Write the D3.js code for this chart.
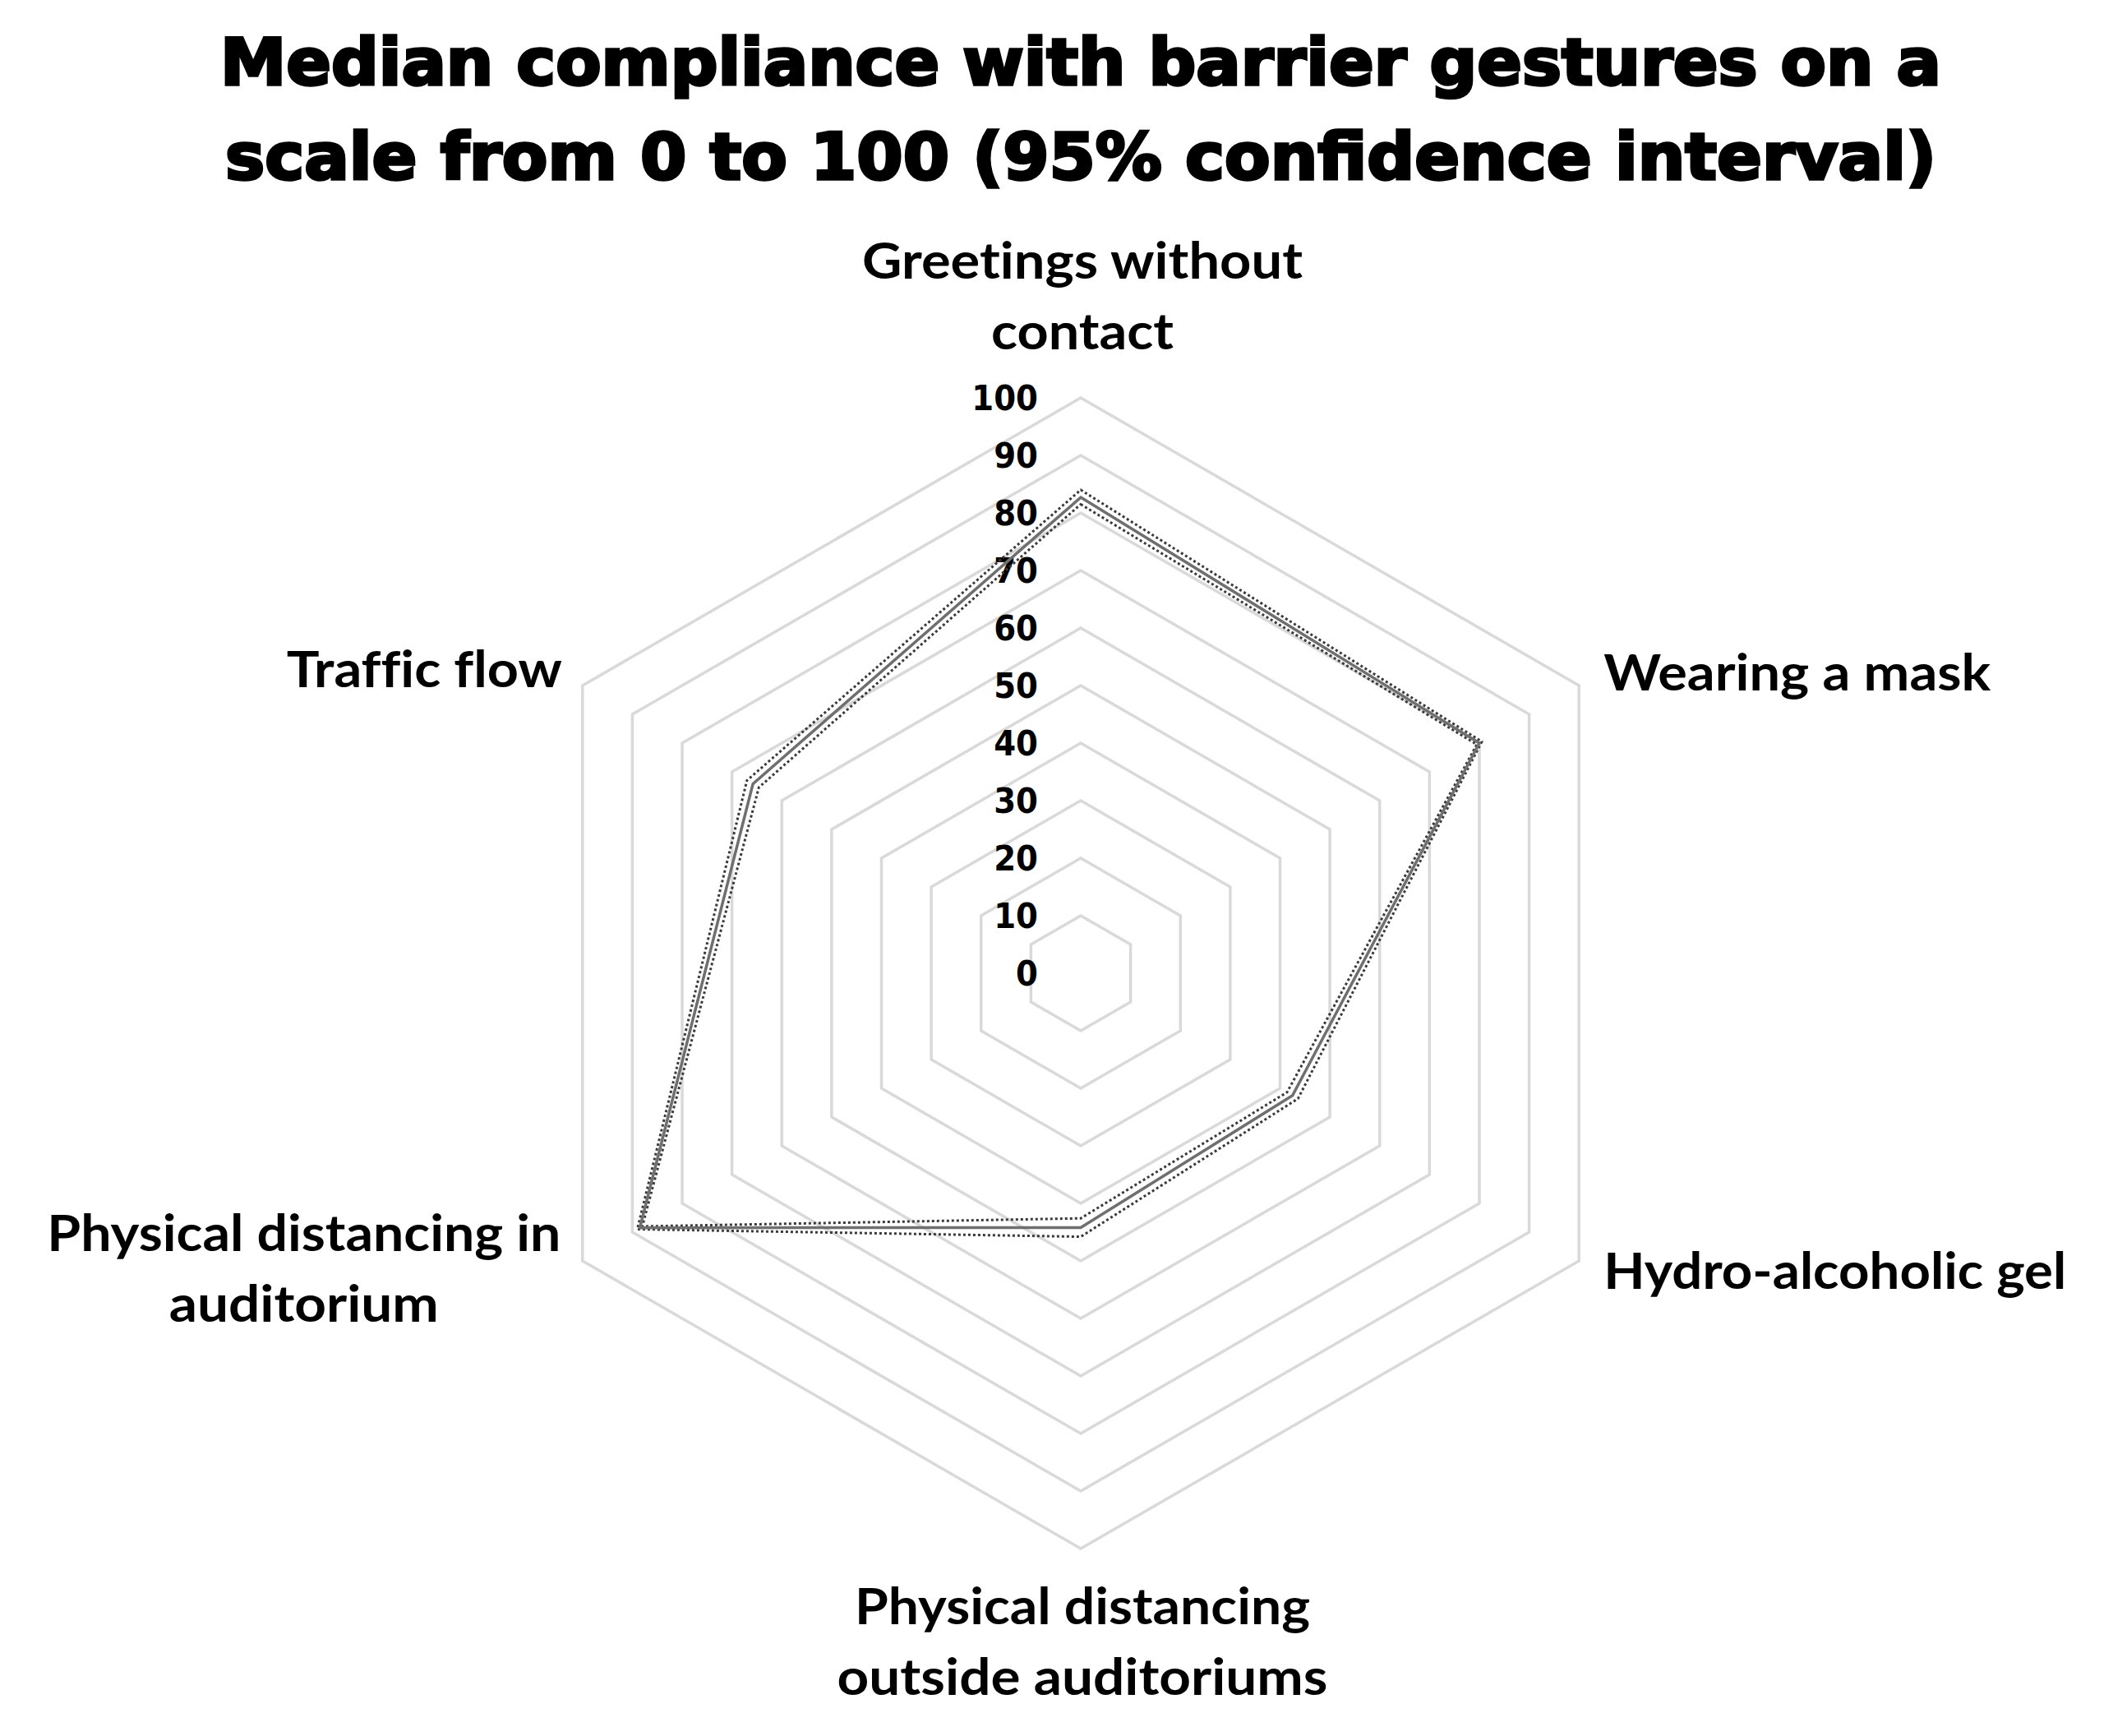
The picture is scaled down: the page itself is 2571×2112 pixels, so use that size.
<!DOCTYPE html>
<html>
<head>
<meta charset="utf-8">
<title>Median compliance with barrier gestures</title>
<script src="https://d3js.org/d3.v7.min.js"></script>
<style>
body {
	margin: 0;
	background-color: white;
}
svg {
	display: block;
}
.title {
	font-family: "DejaVu Sans";
	font-weight: bold;
	font-size: 78px;
	fill: black;
	stroke: black;
	stroke-width: 3.5;
}
.cat {
	font-family: Lato;
	font-weight: bold;
	font-size: 62px;
	font-variant-ligatures: none;
	font-feature-settings: "liga" 0, "dlig" 0;
	fill: black;
}
.tick {
	font-family: "DejaVu Sans Condensed", "DejaVu Sans";
	font-weight: bold;
	font-size: 43px;
	fill: black;
}
.grid {
	fill: none;
	stroke: #d9d9d9;
	stroke-width: 3.5;
}
.median {
	fill: none;
	stroke: #6f6f6f;
	stroke-width: 3.5;
}
.ci {
	fill: none;
	stroke: #3a3a3a;
	stroke-width: 3;
	stroke-dasharray: 3 3;
}
</style>
</head>
<body>
<div id="chart"></div>
<script>
/* globals d3 */
(function() {
"use strict";

const titleLines = [
	"Median compliance with barrier gestures on a",
	"scale from 0 to 100 (95% confidence  interval)",
];
const categories = [
	["Greetings without", "contact"],
	["Wearing a mask"],
	["Hydro-alcoholic gel"],
	["Physical distancing", "outside auditoriums"],
	["Physical distancing in", "auditorium"],
	["Traffic flow"],
];
const medianValues = [82.7, 80.0, 42.5, 44.2, 88.5, 65.8];
const lowerValues = [81.5, 79.5, 41.4, 42.6, 88.0, 64.6];
const upperValues = [84.0, 80.5, 43.6, 45.8, 89.0, 67.0];
const ticks = [0, 10, 20, 30, 40, 50, 60, 70, 80, 90, 100];

function main()
{
	const width = 2571, height = 2112;
	const cx = 1315, cy = 1184, radius = 700;

	const svg = d3.select("#chart")
		.append("svg")
			.attr("width", width)
			.attr("height", height);

	// title, squeezed to the width of the original heavy face
	const titleWidths = [2094, 2082];
	svg.selectAll("text.title")
		.data(titleLines)
		.join("text")
			.attr("class", "title")
			.attr("x", cx)
			.attr("y", (d, i) => 103 + i * 115)
			.attr("text-anchor", "middle")
			.attr("textLength", (d, i) => titleWidths[i])
			.attr("lengthAdjust", "spacingAndGlyphs")
			.text(d => d);

	const g = svg.append("g")
		.attr("transform", "translate(" + cx + "," + cy + ")");

	const r = d3.scaleLinear([0, 100], [0, radius]);
	const angle = i => i * 2 * Math.PI / categories.length;

	const radar = d3.lineRadial()
		.angle((d, i) => angle(i))
		.radius(d => r(d))
		.curve(d3.curveLinearClosed);

	// hexagonal grid rings
	g.selectAll("path.grid")
		.data(ticks)
		.join("path")
			.attr("class", "grid")
			.attr("d", t => radar(categories.map(() => t)));

	// axis labels on the top spoke
	g.selectAll("text.tick")
		.data(ticks)
		.join("text")
			.attr("class", "tick")
			.attr("x", -52)
			.attr("y", t => -r(t))
			.attr("dy", "0.36em")
			.attr("text-anchor", "end")
			.text(t => t);

	// series
	g.append("path").attr("class", "ci").attr("d", radar(upperValues));
	g.append("path").attr("class", "ci").attr("d", radar(lowerValues));
	g.append("path").attr("class", "median").attr("d", radar(medianValues));

	// category labels: anchor offset from the outer vertex, line widths
	const layout = [
		{dx: 2, dy: -145, anchor: "middle", widths: [536, 222]},
		{dx: 30, dy: 6, anchor: "start", widths: [471]},
		{dx: 30, dy: 34, anchor: "start", widths: [563]},
		{dx: 2, dy: 92, anchor: "middle", widths: [554, 597]},
		{dx: -339, dy: -12, anchor: "middle", widths: [625, 328]},
		{dx: -25, dy: 2, anchor: "end", widths: [335]},
	];
	const lineGap = 86;
	categories.forEach((lines, i) => {
		const a = angle(i);
		const x = Math.sin(a) * r(100) + layout[i].dx;
		const y = -Math.cos(a) * r(100) + layout[i].dy;
		const t = g.append("text")
			.attr("class", "cat")
			.attr("text-anchor", layout[i].anchor);
		lines.forEach((line, j) => {
			t.append("tspan")
				.attr("x", x)
				.attr("y", y + j * lineGap)
				.attr("textLength", layout[i].widths[j])
				.attr("lengthAdjust", "spacingAndGlyphs")
				.text(line);
		});
	});
}
window.addEventListener("DOMContentLoaded", main);
})();
</script>
</body>
</html>
